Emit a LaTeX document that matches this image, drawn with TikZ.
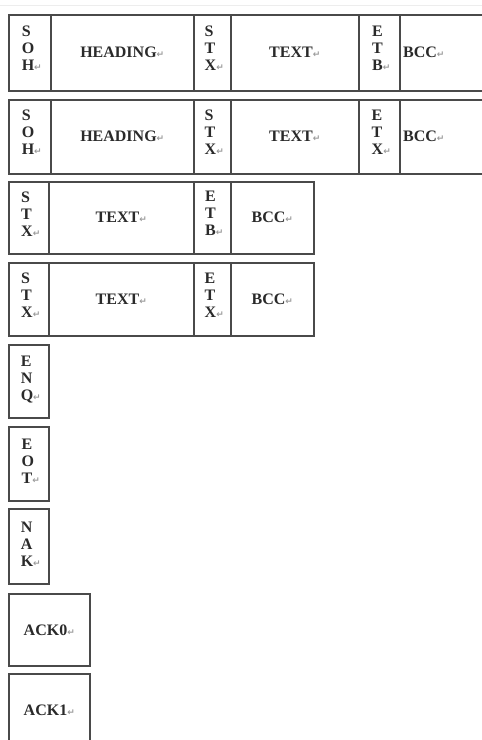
\documentclass[tikz,border=0pt]{standalone}
\usepackage{fontspec}
\setmainfont{Liberation Serif}
\newfontfamily\retfont{DejaVu Sans}
\definecolor{linec}{HTML}{4A4A4A}
\definecolor{txtc}{HTML}{2A2A2A}
\definecolor{retc}{HTML}{9A9A9A}
\newcommand{\rt}{{\color{retc}\retfont\fontsize{9}{9}\selectfont ↵}}
\newcommand{\cellfont}{\fontsize{16}{17}\selectfont\bfseries\color{txtc}}
\tikzset{
  cell/.style={draw=linec, line width=1.5pt, anchor=north west, inner sep=0pt,
    font=\cellfont, align=center},
  txt/.style={inner sep=0pt, font=\cellfont, anchor=west},
  ltxt/.style={inner sep=0pt, font=\cellfont, align=left, xshift=2pt, yshift=#1},
  ltxt/.default=4.5pt,
}
\begin{document}
\begin{tikzpicture}[x=1pt,y=-1pt]
\clip (0,0) rectangle (482,740);
\fill[white] (0,0) rectangle (482,740);
\draw[gray!14, line width=1pt] (0,5) -- (482,5);
% row 1
\node[cell, minimum width=42pt, minimum height=76pt] (a1) at (8,14) {};
\node[ltxt] (a1t) at (a1.center) {S\\O\\H\rt};
\node[cell, minimum width=143pt, minimum height=76pt] (a2) at (50,14) {HEADING\rt};
\node[cell, minimum width=37pt, minimum height=76pt] (a3) at (193,14) {};
\node[ltxt] (a3t) at (a3.center) {S\\T\\X\rt};
\node[cell, minimum width=128pt, minimum height=76pt] (a4) at (230,14) {TEXT\rt};
\node[cell, minimum width=41pt, minimum height=76pt] (a5) at (358,14) {};
\node[ltxt] (a5t) at (a5.center) {E\\T\\B\rt};
\node[cell, minimum width=100pt, minimum height=76pt] (a6) at (399,14) {};
\node[txt] (a6t) at ([xshift=4pt]a6.west) {BCC\rt};
% row 2
\node[cell, minimum width=42pt, minimum height=74pt] (b1) at (8,99) {};
\node[ltxt] (b1t) at (b1.center) {S\\O\\H\rt};
\node[cell, minimum width=143pt, minimum height=74pt] (b2) at (50,99) {HEADING\rt};
\node[cell, minimum width=37pt, minimum height=74pt] (b3) at (193,99) {};
\node[ltxt] (b3t) at (b3.center) {S\\T\\X\rt};
\node[cell, minimum width=128pt, minimum height=74pt] (b4) at (230,99) {TEXT\rt};
\node[cell, minimum width=41pt, minimum height=74pt] (b5) at (358,99) {};
\node[ltxt] (b5t) at (b5.center) {E\\T\\X\rt};
\node[cell, minimum width=100pt, minimum height=74pt] (b6) at (399,99) {};
\node[txt] (b6t) at ([xshift=4pt]b6.west) {BCC\rt};
% row 3
\node[cell, minimum width=40pt, minimum height=72pt] (c1) at (8,181) {};
\node[ltxt=4pt] (c1t) at (c1.center) {S\\T\\X\rt};
\node[cell, minimum width=145pt, minimum height=72pt] (c2) at (48,181) {TEXT\rt};
\node[cell, minimum width=37pt, minimum height=72pt] (c3) at (193,181) {};
\node[ltxt=4pt] (c3t) at (c3.center) {E\\T\\B\rt};
\node[cell, minimum width=83pt, minimum height=72pt] (c4) at (230,181) {BCC\rt};
% row 4
\node[cell, minimum width=40pt, minimum height=73pt] (d1) at (8,262) {};
\node[ltxt=4pt] (d1t) at (d1.center) {S\\T\\X\rt};
\node[cell, minimum width=145pt, minimum height=73pt] (d2) at (48,262) {TEXT\rt};
\node[cell, minimum width=37pt, minimum height=73pt] (d3) at (193,262) {};
\node[ltxt=4pt] (d3t) at (d3.center) {E\\T\\X\rt};
\node[cell, minimum width=83pt, minimum height=73pt] (d4) at (230,262) {BCC\rt};
% single boxes
\node[cell, minimum width=40pt, minimum height=73pt] (enq) at (8,344) {};
\node[ltxt=2pt] (enqt) at (enq.center) {E\\N\\Q\rt};
\node[cell, minimum width=40pt, minimum height=74pt] (eot) at (8,426) {};
\node[ltxt=2pt] (eott) at (eot.center) {E\\O\\T\rt};
\node[cell, minimum width=40pt, minimum height=75pt] (nak) at (8,508) {};
\node[ltxt=2pt] (nakt) at (nak.center) {N\\A\\K\rt};
\node[cell, minimum width=81pt, minimum height=72pt] (ack0) at (8,593) {ACK0\rt};
\node[cell, minimum width=81pt, minimum height=74pt] (ack1) at (8,673) {ACK1\rt};
\end{tikzpicture}
\end{document}
